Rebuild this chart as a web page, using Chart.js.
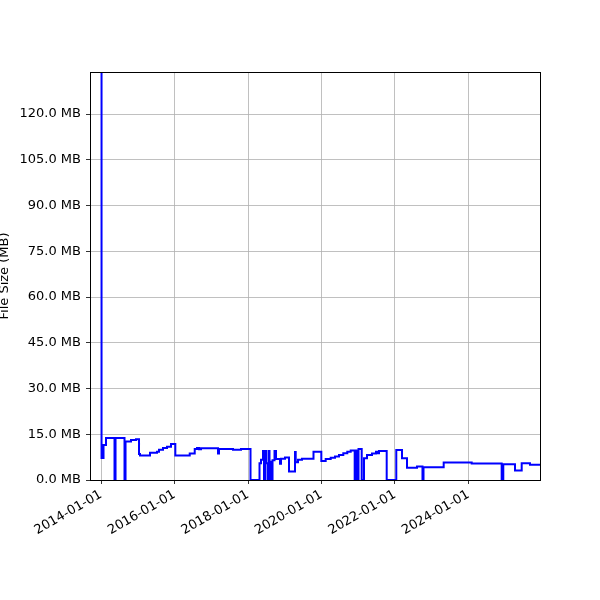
<!DOCTYPE html>
<html>
<head>
<meta charset="utf-8">
<script src="https://cdn.jsdelivr.net/npm/chart.js@4/dist/chart.umd.min.js"></script>
<style>
  html, body { margin: 0; padding: 0; background: #ffffff; }
  canvas { display: block; }
</style>
</head>
<body>
<canvas id="c" width="600" height="600"></canvas>
<script>
// Decimal-year positions where each file size takes effect
const years = [
  2014.000, 2014.014, 2014.068, 2014.136, 2014.367, 2014.395, 2014.639, 2014.667,
  2014.816, 2014.952, 2015.034, 2015.061, 2015.333, 2015.524, 2015.578, 2015.687,
  2015.796, 2015.905, 2016.022, 2016.414, 2016.550, 2016.612, 2016.667, 2016.721,
  2017.184, 2017.211, 2017.592, 2017.810, 2018.068, 2018.313, 2018.354, 2018.408,
  2018.435, 2018.463, 2018.490, 2018.531, 2018.558, 2018.585, 2018.612, 2018.639,
  2018.667, 2018.721, 2018.762, 2018.871, 2018.898, 2019.007, 2019.116, 2019.279,
  2019.298, 2019.361, 2019.469, 2019.782, 2019.995, 2020.114, 2020.250, 2020.367,
  2020.476, 2020.593, 2020.702, 2020.795, 2020.903, 2020.931, 2020.952, 2021.007,
  2021.094, 2021.156, 2021.238, 2021.374, 2021.483, 2021.510, 2021.565, 2021.774,
  2022.035, 2022.190, 2022.327, 2022.599, 2022.748, 2022.776, 2023.325, 2024.087,
  2024.903, 2024.947, 2025.265, 2025.448, 2025.673, 2025.946
];
// File size in MB
const sizesMB = [
  133.8, 7.2, 11.5, 13.8, 0, 13.8, 0, 12.6,
  13.1, 13.4, 8.5, 8.0, 8.9, 9.3, 9.9, 10.5,
  10.9, 11.8, 8.0, 8.7, 10.2, 10.5, 10.1, 10.4,
  8.7, 10.2, 9.9, 10.2, 0, 5.5, 6.6, 9.5,
  0, 9.5, 5.5, 0, 9.5, 0, 6.0, 0,
  6.5, 9.5, 6.9, 5.3, 7.0, 7.4, 2.8, 9.2,
  5.8, 6.6, 7.0, 9.3, 6.2, 6.9, 7.3, 7.7,
  8.2, 8.8, 9.3, 9.7, 0, 9.7, 0, 10.2,
  0, 7.1, 8.2, 8.7, 9.3, 8.8, 9.5, 0,
  9.8, 7.1, 4.0, 4.4, 0, 4.2, 5.7, 5.4,
  0, 5.2, 3.1, 5.5, 5.0, 5.0
];
const xTickYears = [2014, 2016, 2018, 2020, 2022, 2024];
const yTickValues = [0, 15, 30, 45, 60, 75, 90, 105, 120];

const points = years.map((y, i) => ({ x: y, y: sizesMB[i] }));

const FONT = { family: 'DejaVu Sans', size: 13 };

const framePlugin = {
  id: 'frame',
  beforeDraw(chart) {
    const ctx = chart.ctx;
    ctx.save();
    ctx.fillStyle = '#ffffff';
    ctx.fillRect(0, 0, chart.width, chart.height);
    ctx.restore();
  },
  afterDraw(chart) {
    const a = chart.chartArea;
    const ctx = chart.ctx;
    ctx.save();
    ctx.strokeStyle = '#000000';
    ctx.lineWidth = 1;
    ctx.strokeRect(Math.round(a.left) + 0.5, Math.round(a.top) + 0.5,
                   Math.round(a.right - a.left), Math.round(a.bottom - a.top));
    ctx.restore();
  }
};

new Chart(document.getElementById('c'), {
  type: 'line',
  data: {
    datasets: [{
      data: points,
      borderColor: '#0000ff',
      borderWidth: 2,
      pointRadius: 0,
      stepped: true,
      fill: false
    }]
  },
  options: {
    responsive: false,
    animation: false,
    layout: { padding: { top: 72, right: 60, left: 0, bottom: 0 } },
    plugins: { legend: { display: false }, tooltip: { enabled: false } },
    scales: {
      x: {
        type: 'linear',
        min: 2013.70,
        max: 2025.946,
        afterBuildTicks(scale) { scale.ticks = xTickYears.map(v => ({ value: v })); },
        afterFit(scale) { scale.height = 120; },
        grid: { color: '#b0b0b0', lineWidth: 0.8, tickColor: '#000000', tickLength: 4, drawOnChartArea: true },
        border: { display: false },
        ticks: {
          color: '#000000',
          font: FONT,
          minRotation: 30,
          maxRotation: 30,
          padding: 3,
          callback: v => v + '-01-01'
        }
      },
      y: {
        type: 'linear',
        min: 0,
        max: 133.8,
        afterBuildTicks(scale) { scale.ticks = yTickValues.map(v => ({ value: v })); },
        afterFit(scale) { scale.width = 90; },
        grid: { color: '#b0b0b0', lineWidth: 0.8, tickColor: '#000000', tickLength: 4 },
        border: { display: false },
        title: { display: true, text: 'File Size (MB)', color: '#000000', font: FONT, padding: { top: -3, bottom: 0 } },
        ticks: {
          color: '#000000',
          font: FONT,
          padding: 5,
          callback: v => v.toFixed(1) + ' MB'
        }
      }
    }
  },
  plugins: [framePlugin]
});
</script>
</body>
</html>
